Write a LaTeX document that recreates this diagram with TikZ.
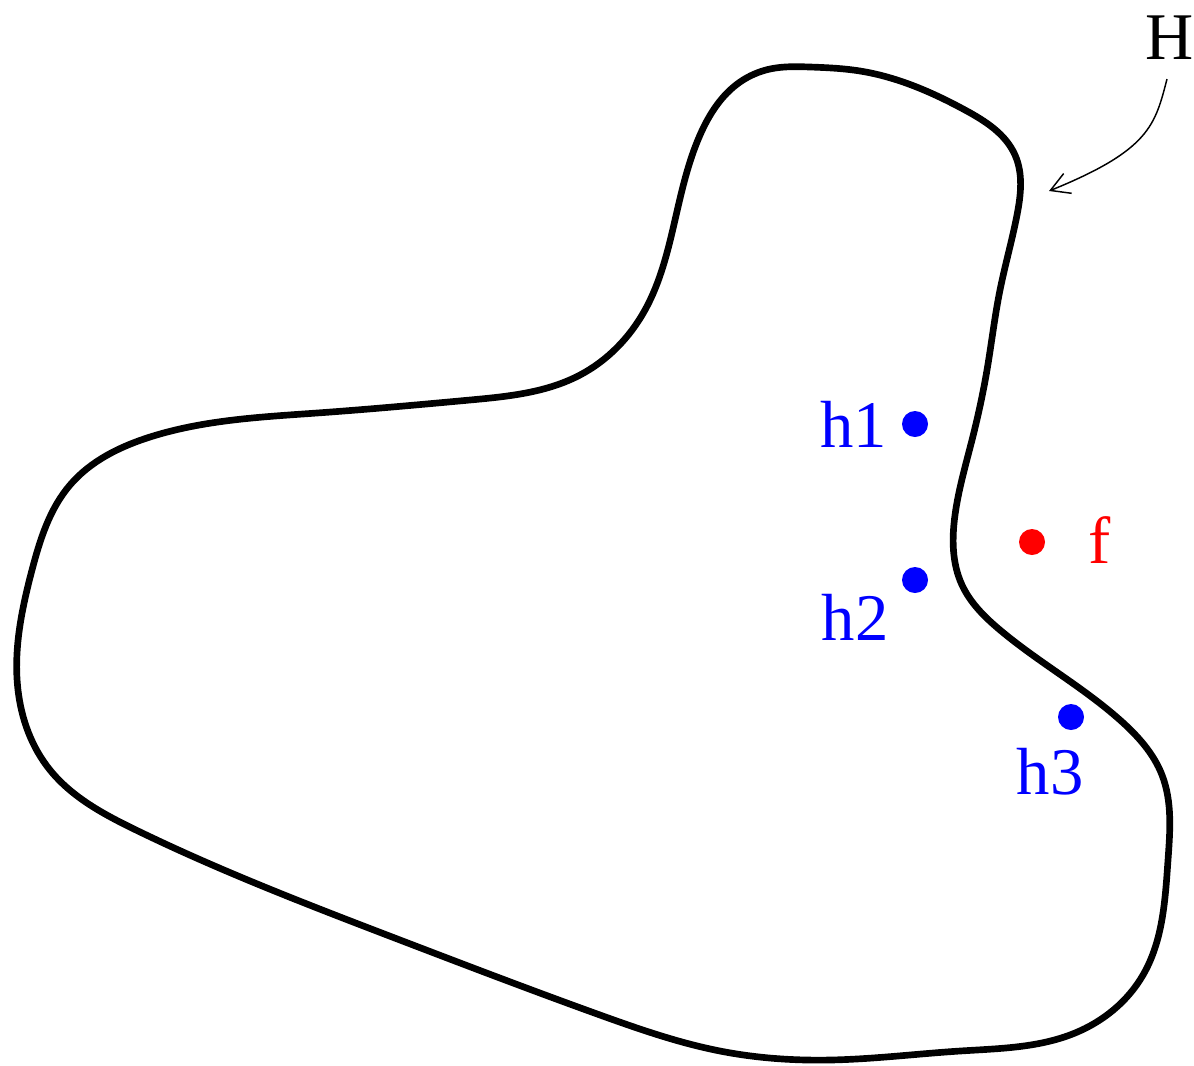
\documentclass[tikz,border=0pt]{standalone}
\usepackage{fontspec}
\setmainfont{Liberation Serif}
\usetikzlibrary{arrows.meta,hobby}
\begin{document}
\begin{tikzpicture}[x=0.75pt,y=-0.75pt,
  blob/.style={line width=5pt,line join=round},
  hdot/.style={circle,fill=blue,inner sep=0pt,minimum size=19.5pt},
  fdot/.style={circle,fill=red,inner sep=0pt,minimum size=19.5pt},
  lbl/.style={font=\fontsize{50}{60}\selectfont,inner sep=0pt}]
\useasboundingbox (0,0) rectangle (1194,1065);
\draw[blob,use Hobby shortcut,closed=true]
 (810,67) .. (860,71) .. (965,110) .. (1015,155) .. (1017,215)
 .. (1000,290) .. (987,370) .. (972,440) .. (955,515) .. (962,585) .. (1000,630)
 .. (1120,720) .. (1162,775) .. (1168,860) .. (1143,975) .. (1075,1033)
 .. (960,1051) .. (830,1060) .. (720,1051) .. (600,1015) .. (400,940) .. (136,830) .. (50,770)
 .. (18,690) .. (32,570) .. (70,485) .. (150,437) .. (317,413) .. (470,400)
 .. (580,375) .. (645,310) .. (675,220) .. (700,135) .. (740,82) .. (770,69);
\node[hdot] (h1) at (915,424) {};
\node[hdot] (h2) at (915,580) {};
\node[hdot] (h3) at (1071,717) {};
\node[fdot] (f) at (1032,542) {};
\node[lbl,text=blue,anchor=east] (l1) at (887,424) {h1};
\node[lbl,text=blue] (l2) at (855,617) {h2};
\node[lbl,text=blue] (l3) at (1050,772) {h3};
\node[lbl,text=red,anchor=west] (lf) at (1088,540) {f};
\node[lbl] (H) at (1170,38) {H};
\coordinate (Htip) at (1049,191);
\draw[line width=1.1pt,-{Straight Barb[length=14pt,width=16pt]}] (1167,79) .. controls (1155,125) and (1150,150) .. (Htip);
\end{tikzpicture}
\end{document}
